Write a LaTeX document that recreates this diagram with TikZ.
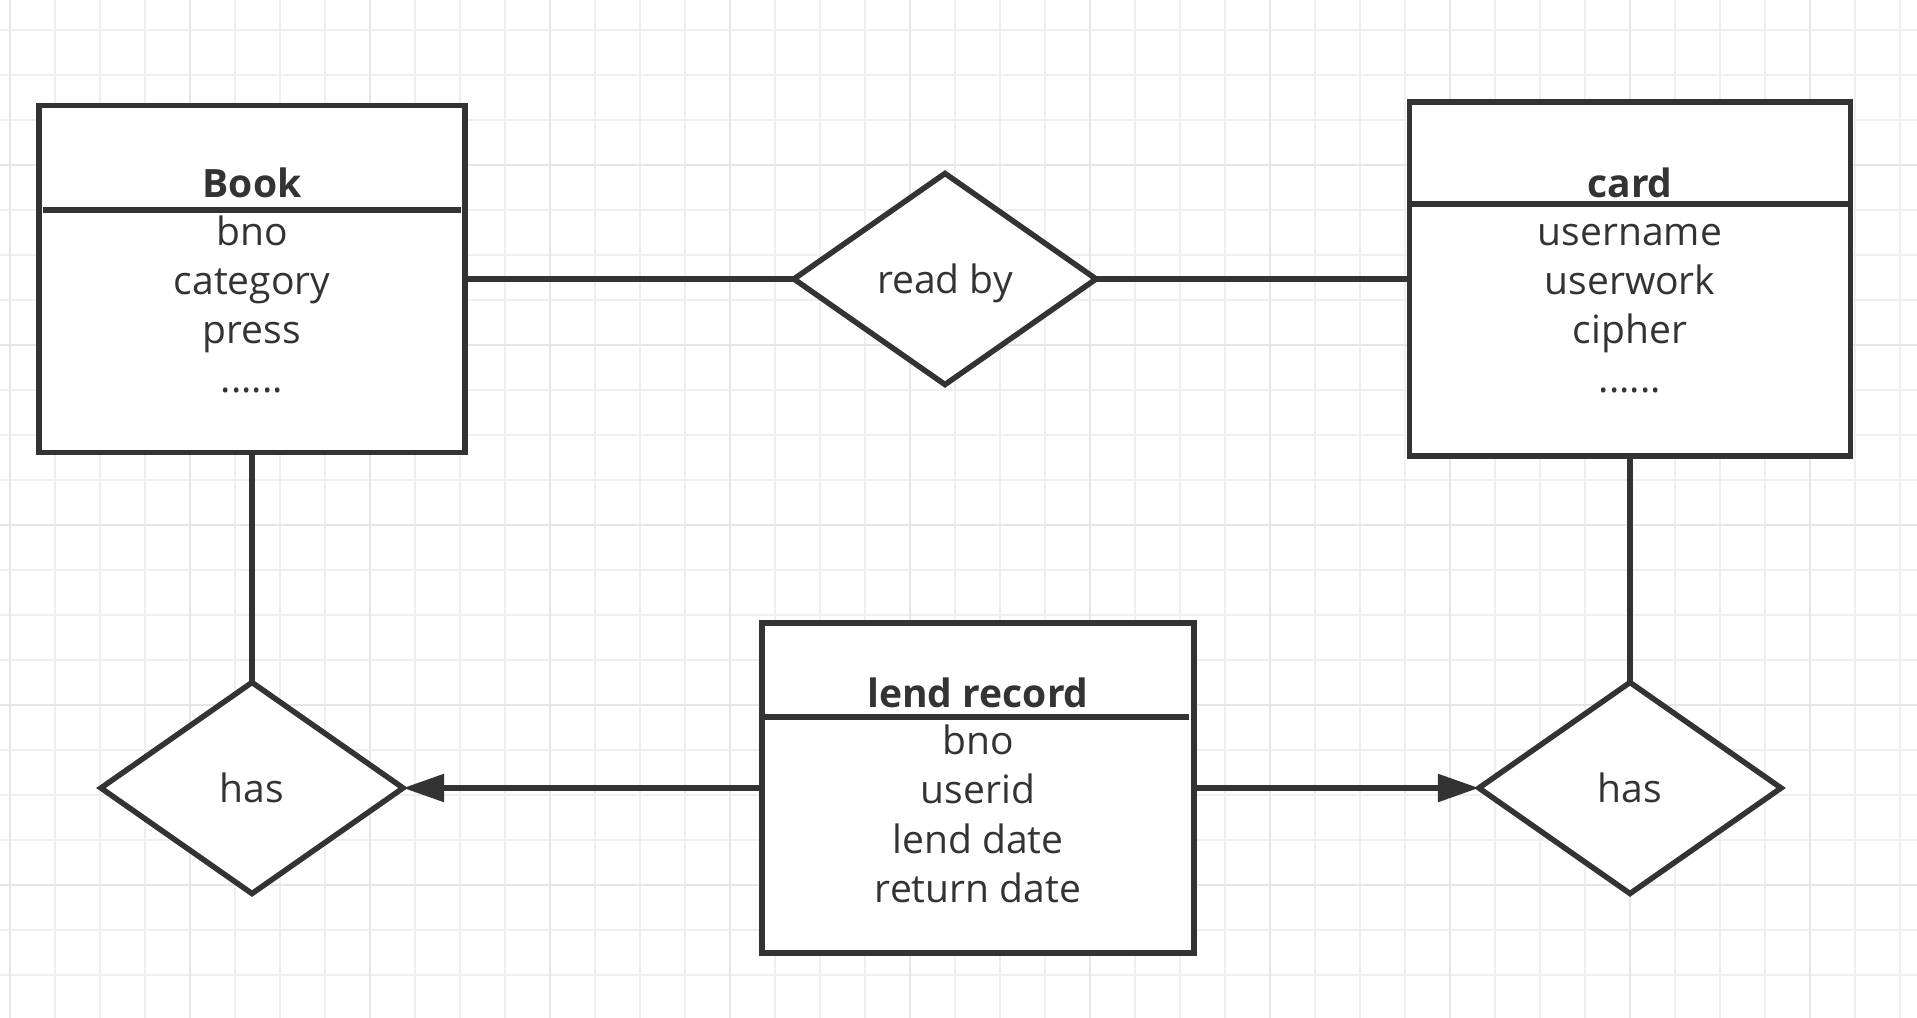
\documentclass[tikz,border=0pt]{standalone}
\usepackage{fontspec}
\setmainfont{Open Sans}
\usepackage{tikz}
\usetikzlibrary{arrows.meta}
\usetikzlibrary{shapes.geometric}
\definecolor{ink}{HTML}{333333}
\definecolor{gridfaint}{HTML}{EFEFEF}
\definecolor{gridstrong}{HTML}{E6E6E6}

\begin{document}
\begin{tikzpicture}[x=0.01cm, y=-0.01cm,
    gridline/.style={draw=gridfaint, line width=0.13mm},
    gridbold/.style={draw=gridstrong, line width=0.13mm},
    entity/.style={rectangle, draw=ink, fill=white, line width=.55mm, inner sep=0pt, outer sep=0pt},
    rel/.style={diamond, draw=ink, fill=white, line width=.55mm, inner sep=0pt, outer sep=0pt,
                minimum width=3.02cm, minimum height=2.11cm, text=ink,
                text height=2.9mm, text depth=0pt, font=\fontsize{11.1}{13.9}\selectfont},
    title/.style={anchor=base, text=ink, inner sep=0pt, font=\fontsize{11.1}{13.9}\selectfont\bfseries},
    attr/.style={anchor=base, text=ink, inner sep=0pt, font=\fontsize{11.1}{13.9}\selectfont},
    sep/.style={draw=ink, line width=.55mm}]
  \useasboundingbox (0,0) rectangle (1917,1018);

  % grid
  \foreach \x in {10,55,...,1917} \draw[gridline] (\x,0) -- (\x,1018);
  \foreach \y in {30,75,...,1018} \draw[gridline] (0,\y) -- (1917,\y);
  \foreach \x in {10,190,...,1917} \draw[gridbold] (\x,0) -- (\x,1018);
  \foreach \y in {165,345,...,1018} \draw[gridbold] (0,\y) -- (1917,\y);

  % entities
  \node[entity, minimum width=4.26cm, minimum height=3.47cm] (book) at (252,279) {};
  \node[entity, minimum width=4.41cm, minimum height=3.54cm] (card) at (1630,279) {};
  \node[entity, minimum width=4.32cm, minimum height=3.30cm] (lend) at (978,788) {};

  \node[title] (book-title) at (252,197) {Book};
  \draw[sep] (43,210) -- (461,210);
  \foreach \t [count=\i from 0] in {bno, category, press}
    \node[attr] (book-\i) at (252,245+49*\i) {\t};
  \node[attr] (book-more) at (252,392) {......};

  \node[title] (card-title) at (1630,197) {card};
  \draw[sep] (1412,204) -- (1848,204);
  \foreach \t [count=\i from 0] in {username, userwork, cipher}
    \node[attr] (card-\i) at (1630,245+49*\i) {\t};
  \node[attr] (card-more) at (1630,392) {......};

  \node[title] (lend-title) at (978,707) {lend record};
  \draw[sep] (764,717) -- (1189,717);
  \foreach \t [count=\i from 0] in {bno, userid, lend date, return date}
    \node[attr] (lend-\i) at (978,754+49.6*\i) {\t};

  % relationships
  \node[rel] (readby) at (945,279) {read by};
  \node[rel] (hasbook) at (252,788) {has};
  \node[rel] (hascard) at (1630,788) {has};

  \begin{scope}[draw=ink, line width=.55mm]
    \draw (book) -- (readby);
    \draw (readby) -- (card);
    \draw (book) -- (hasbook);
    \draw (card) -- (hascard);
    \draw[-{Triangle[length=4.1mm, width=2.7mm]}] (lend) -- (hasbook);
    \draw[-{Triangle[length=4.1mm, width=2.7mm]}] (lend) -- (hascard);
  \end{scope}
\end{tikzpicture}
\end{document}
